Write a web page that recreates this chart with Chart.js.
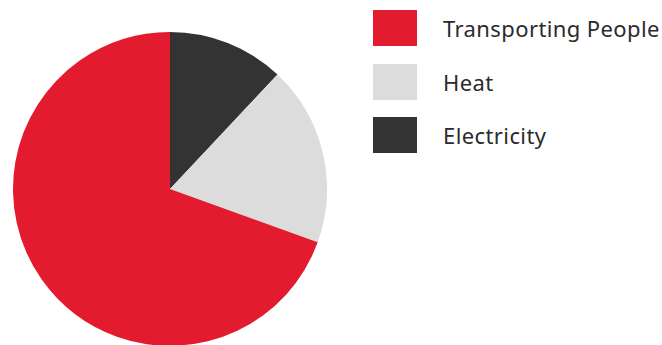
<!DOCTYPE html>
<html>
<head>
<meta charset="utf-8">
<script src="https://cdn.jsdelivr.net/npm/chart.js@4"></script>
<style>
  html, body { margin: 0; padding: 0; background: #fff; overflow: hidden; }
  body { width: 662px; height: 345px; position: relative; font-family: "Noto Sans", sans-serif; }
  #pieWrap { position: absolute; left: 13px; top: 32px; width: 314px; height: 314px; }
  #legend { position: absolute; left: 373px; top: 10px; }
  .item { display: flex; align-items: center; height: 36px; margin-bottom: 17.5px; }
  .box { width: 44px; height: 36px; margin-right: 26px; }
  .label { font-size: 22px; color: #2b2b2b; letter-spacing: 0.4px; white-space: nowrap; }
</style>
</head>
<body>
<div id="pieWrap"><canvas id="pie"></canvas></div>
<div id="legend"></div>
<script>
// legend order (as shown on the right)
const labels = ["Transporting People", "Heat", "Electricity"];
const values = [69.5, 18.5, 12];
const colors = ["#e31b2e", "#dcdcdc", "#333333"];

function buildLegend() {
  let html = "";
  labels.forEach((l, i) => {
    html += `<div class="item"><div class="box" style="background:${colors[i]}"></div><span class="label">${l}</span></div>`;
  });
  document.getElementById("legend").innerHTML = html;
}

function drawPie() {
  // slices run clockwise from the top in reverse legend order
  const ctx = document.getElementById("pie").getContext("2d");
  new Chart(ctx, {
    type: "pie",
    data: {
      labels: labels.slice().reverse(),
      datasets: [{
        data: values.slice().reverse(),
        backgroundColor: colors.slice().reverse(),
        borderWidth: 0
      }]
    },
    options: {
      responsive: true,
      maintainAspectRatio: false,
      animation: false,
      layout: { padding: 0 },
      plugins: { legend: { display: false }, tooltip: { enabled: false } }
    }
  });
}

buildLegend();
drawPie();
</script>
</body>
</html>
